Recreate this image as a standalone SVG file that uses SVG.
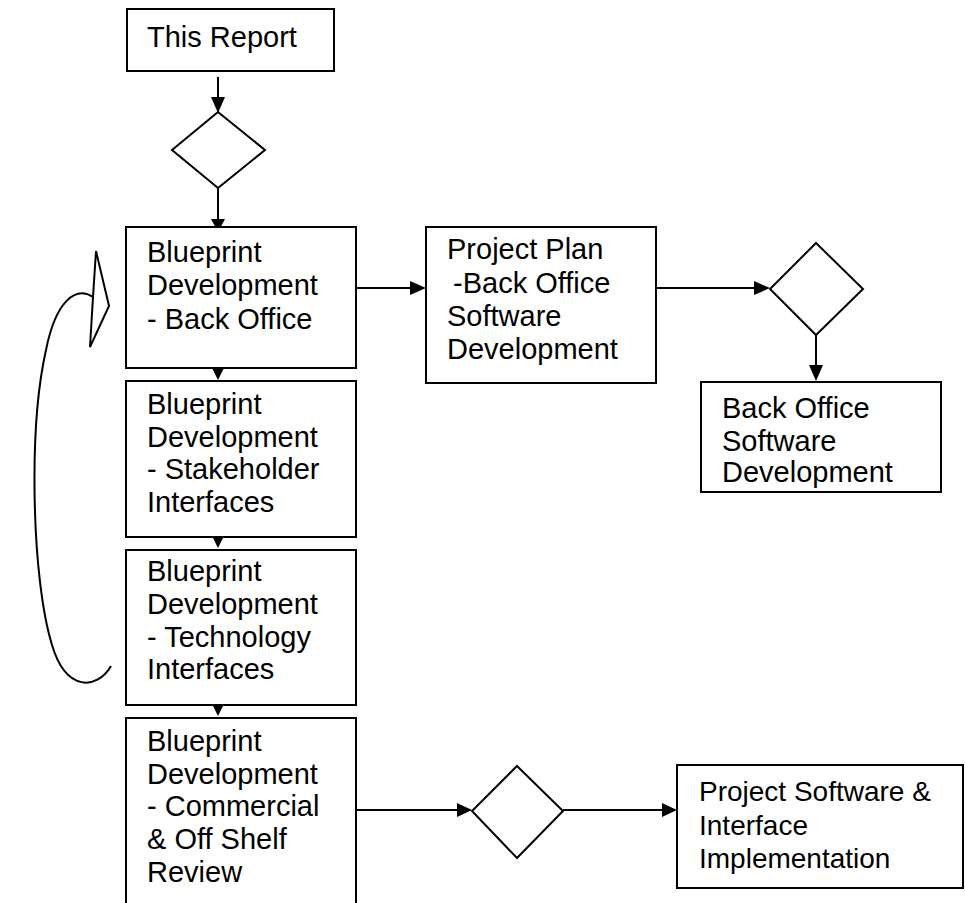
<svg xmlns="http://www.w3.org/2000/svg" width="965" height="903" viewBox="0 0 965 903">
<defs>
<style>
.box{fill:#fff;stroke:#000;stroke-width:2}
.dia{fill:#fff;stroke:#000;stroke-width:2}
.lbl{font-family:"Liberation Sans",Arial,Helvetica,sans-serif;font-size:29px;fill:#000}
.sm{font-size:28px}
.ln{fill:none;stroke:#000;stroke-width:2}
.ah{fill:#000;stroke:none}
</style>
</defs>
<rect width="965" height="903" fill="#fff"/>
<g id="connectors">
<line class="ln" x1="218" y1="77" x2="218" y2="100"/>
<polygon class="ah" points="211,97 225,97 218,113"/>
<line class="ln" x1="218" y1="188" x2="218" y2="222"/>
<polygon class="ah" points="211,219 225,219 218,232"/>
<polygon class="ah" points="212,368 224,368 218,380"/>
<polygon class="ah" points="212,536 224,536 218,548"/>
<polygon class="ah" points="212,704 224,704 218,716"/>
<line class="ln" x1="356" y1="288" x2="414" y2="288"/>
<polygon class="ah" points="410,281 410,295 426,288"/>
<line class="ln" x1="656" y1="288" x2="758" y2="288"/>
<polygon class="ah" points="754,281 754,295 770,288"/>
<line class="ln" x1="816" y1="335" x2="816" y2="368"/>
<polygon class="ah" points="809,365 823,365 816,381"/>
<line class="ln" x1="356" y1="810" x2="460" y2="810"/>
<polygon class="ah" points="457,803 457,817 472,810"/>
<line class="ln" x1="563" y1="810" x2="665" y2="810"/>
<polygon class="ah" points="662,803 662,817 677,810"/>
<path class="ln" d="M111,666 C97,690 66,692 52,645 C32,580 28,430 46,350 C56,300 76,286 93,297"/>
<polygon class="box" points="96,251 109,306 90,347 93,297"/>
</g>
<g id="n-report">
<rect class="box" x="127" y="9" width="207" height="62"/>
<text class="lbl" x="147" y="47">This Report</text>
</g>
<g id="n-d1">
<polygon class="dia" points="218,112 265,150 218,188 172,150"/>
</g>
<g id="n-bp-back">
<rect class="box" x="126" y="227" width="230" height="141"/>
<text class="lbl" x="147" y="262">Blueprint</text>
<text class="lbl" x="147" y="295">Development</text>
<text class="lbl" x="147" y="329">- Back Office</text>
</g>
<g id="n-bp-stake">
<rect class="box" x="126" y="381" width="230" height="156"/>
<text class="lbl" x="147" y="414">Blueprint</text>
<text class="lbl" x="147" y="447">Development</text>
<text class="lbl" x="147" y="479">- Stakeholder</text>
<text class="lbl" x="147" y="512">Interfaces</text>
</g>
<g id="n-bp-tech">
<rect class="box" x="126" y="550" width="230" height="155"/>
<text class="lbl" x="147" y="581">Blueprint</text>
<text class="lbl" x="147" y="614">Development</text>
<text class="lbl" x="147" y="647">- Technology</text>
<text class="lbl" x="147" y="679">Interfaces</text>
</g>
<g id="n-bp-comm">
<rect class="box" x="126" y="718" width="230" height="200"/>
<text class="lbl" x="147" y="751">Blueprint</text>
<text class="lbl" x="147" y="784">Development</text>
<text class="lbl" x="147" y="816">- Commercial</text>
<text class="lbl" x="147" y="849">&amp; Off Shelf</text>
<text class="lbl" x="147" y="882">Review</text>
</g>
<g id="n-plan">
<rect class="box" x="426" y="227" width="230" height="156"/>
<text class="lbl" x="447" y="259">Project Plan</text>
<text class="lbl" x="453" y="293">-Back Office</text>
<text class="lbl" x="447" y="326">Software</text>
<text class="lbl" x="447" y="359">Development</text>
</g>
<g id="n-d2">
<polygon class="dia" points="816,243 863,289 816,335 770,289"/>
</g>
<g id="n-bo-dev">
<rect class="box" x="701" y="382" width="240" height="110"/>
<text class="lbl" x="722" y="418">Back Office</text>
<text class="lbl" x="722" y="451">Software</text>
<text class="lbl" x="722" y="482">Development</text>
</g>
<g id="n-d3">
<polygon class="dia" points="517,766 563,811 517,858 472,811"/>
</g>
<g id="n-impl">
<rect class="box" x="677" y="765" width="286" height="123"/>
<text class="lbl sm" x="699" y="801">Project Software &amp;</text>
<text class="lbl sm" x="699" y="835">Interface</text>
<text class="lbl sm" x="699" y="868">Implementation</text>
</g>
</svg>
